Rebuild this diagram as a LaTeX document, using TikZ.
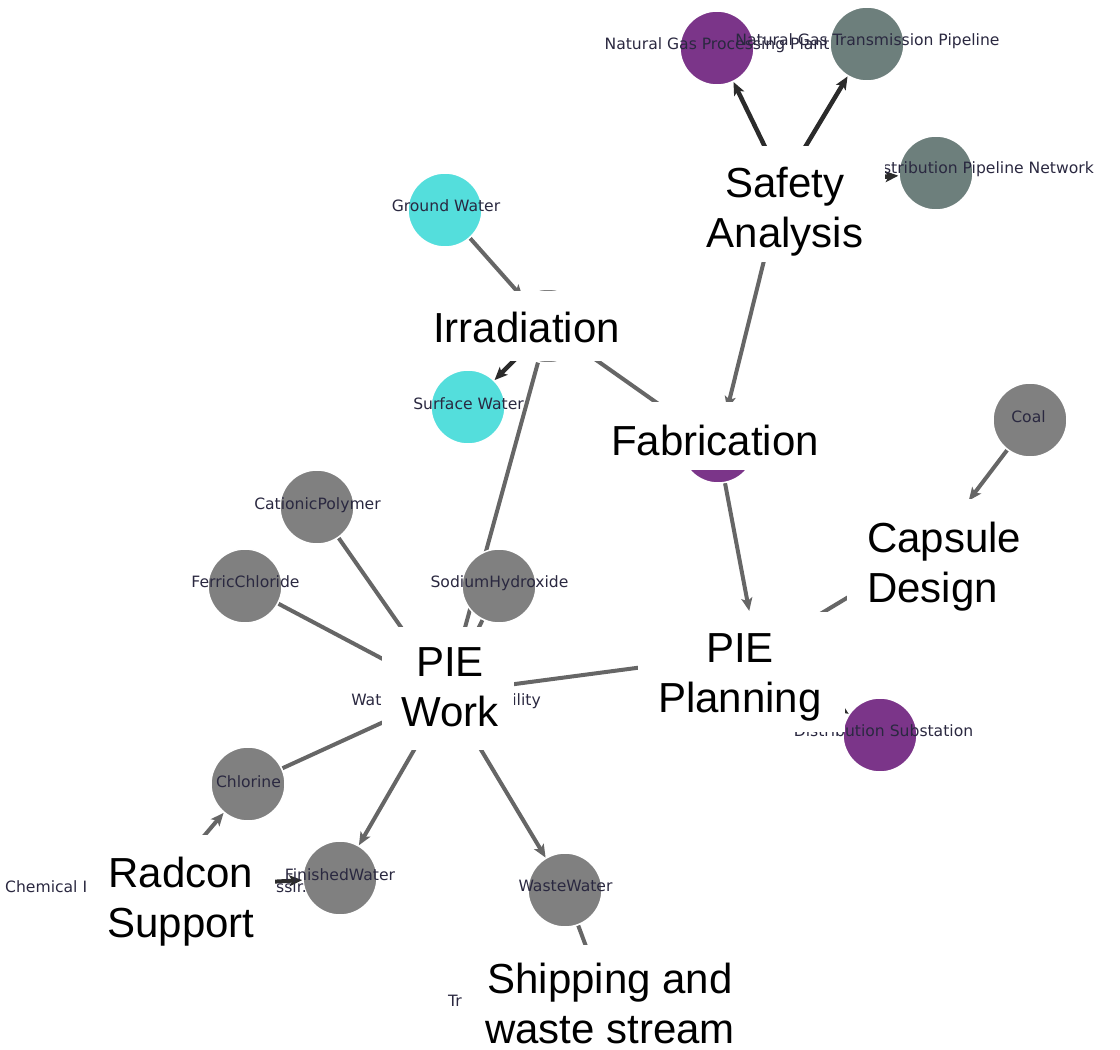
\documentclass[tikz,border=0pt]{standalone}
\usepackage{fontspec}
\setmainfont{Liberation Sans}
\newfontfamily\labelfont{DejaVu Sans}
\usetikzlibrary{arrows.meta}

\pgfdeclarelayer{edges}
\pgfdeclarelayer{labels}
\pgfdeclarelayer{boxes}
\pgfsetlayers{edges,main,labels,boxes}

\definecolor{nodepurple}{HTML}{7B3589}
\definecolor{nodeslate}{HTML}{6D7F7C}
\definecolor{nodecyan}{HTML}{54DEDC}
\definecolor{nodegray}{HTML}{808080}
\definecolor{edgegray}{HTML}{666666}
\definecolor{edgedark}{HTML}{2B2B2B}
\definecolor{labeltext}{HTML}{2A2840}

\begin{document}
\begin{tikzpicture}[x=1pt,y=-1pt,
  dot/.style={circle, minimum size=74pt, inner sep=0pt, draw=white, line width=1.5pt},
  lbl/.style={font=\labelfont\fontsize{15.6}{18}\selectfont, text=labeltext, inner sep=0pt, anchor=base},
  link/.style={draw=edgegray, line width=4pt},
  arrowlink/.style={link, -{Stealth[length=13pt,width=11pt,inset=3pt]}},
  darklink/.style={arrowlink, draw=edgedark, line width=4.5pt},
  cover/.style={fill=white, inner sep=0pt},
  big/.style={font=\fontsize{42}{50}\selectfont, align=center, inner sep=0pt}
]
\useasboundingbox (0,0) rectangle (1120,1050);

% ---- graph nodes ----
\node[dot, fill=nodepurple] (ngpp) at (717,48) {};
\node[dot, fill=nodeslate]  (ngtp) at (867,44) {};
\node[dot, fill=nodeslate]  (dpn)  at (936,173) {};
\node[dot, fill=nodegray]   (safety) at (783,184) {};
\node[dot, fill=nodecyan]   (gw)   at (445,210) {};
\node[dot, fill=nodegray]   (irr)  at (548,326) {};
\node[dot, fill=nodecyan]   (sw)   at (468,407) {};
\node[dot, fill=nodepurple] (fab)  at (718,446) {};
\node[dot, fill=nodegray]   (coal) at (1030,420) {};
\node[dot, fill=nodegray]   (caps) at (935,545) {};
\node[dot, fill=nodegray]   (plan) at (757,652) {};
\node[dot, fill=nodepurple] (ds)   at (880,735) {};
\node[dot, fill=nodegray]   (cp)   at (317,507) {};
\node[dot, fill=nodegray]   (fc)   at (245,586) {};
\node[dot, fill=nodegray]   (sh)   at (499,586) {};
\node[dot, fill=nodegray]   (wtf)  at (447,693) {};
\node[dot, fill=nodegray]   (cl)   at (248,784) {};
\node[dot, fill=nodegray]   (fw)   at (340,878) {};
\node[dot, fill=nodegray]   (ww)   at (565,890) {};
\node[dot, fill=nodegray]   (chem) at (160,888) {};
\node[dot, fill=nodegray]   (trans) at (606,1000) {};

% ---- connectors ----
\begin{pgfonlayer}{edges}
\draw[darklink] (safety) -- (ngpp);
\draw[darklink] (safety) -- (ngtp);
\draw[darklink] (safety) -- (dpn);
\draw[arrowlink] (safety) -- (fab);
\draw[arrowlink] (gw) -- (irr);
\draw[darklink] (irr) -- (sw);
\draw[arrowlink] (irr) -- (fab);
\draw[arrowlink] (irr) -- (wtf);
\draw[arrowlink, shorten >=4pt] (fab) -- (plan);
\draw[arrowlink, shorten >=18pt] (coal) -- (caps);
\draw[arrowlink] (caps) -- (plan);
\draw[arrowlink] (plan) -- (wtf);
\draw[darklink] (plan) -- (ds);
\draw[arrowlink] (cp) -- (wtf);
\draw[arrowlink] (fc) -- (wtf);
\draw[arrowlink] (sh) -- (wtf);
\draw[arrowlink] (cl) -- (wtf);
\draw[arrowlink] (wtf) -- (fw);
\draw[arrowlink] (wtf) -- (ww);
\draw[arrowlink] (chem) -- (cl);
\draw[arrowlink, draw=edgedark] (chem) -- (fw);
\draw[arrowlink] (ww) -- (trans);
\end{pgfonlayer}

% ---- node labels ----
\begin{pgfonlayer}{labels}
\node[lbl] (ngpplbl) at (717,49) {Natural Gas Processing Plant};
\node[lbl] (ngtplbl) at (867.5,45) {Natural Gas Transmission Pipeline};
\node[lbl, anchor=base east] (dpnlbl) at (1094,173) {Distribution Pipeline Network};
\node[lbl] (gwlbl) at (446,211) {Ground Water};
\node[lbl] (swlbl) at (468.5,409) {Surface Water};
\node[lbl] (cplbl) at (317.5,509) {CationicPolymer};
\node[lbl] (fclbl) at (245.5,587) {FerricChloride};
\node[lbl] (shlbl) at (499.5,587) {SodiumHydroxide};
\node[lbl] (wtflbl) at (446,705) {Water Treatment Facility};
\node[lbl] (cllbl) at (248.5,787) {Chlorine};
\node[lbl] (fwlbl) at (340,880) {FinishedWater};
\node[lbl] (wwlbl) at (565.5,891) {WasteWater};
\node[lbl] (coallbl) at (1028.5,422) {Coal};
\node[lbl] (dslbl) at (883.5,736) {Distribution Substation};
\node[lbl, anchor=base west] (chemlbl) at (5,892) {Chemical I};
\node[lbl, anchor=base west] (chemtail) at (276,892) {ssir.};
\node[lbl, anchor=base west] (translbl) at (448,1006) {Tr};
\end{pgfonlayer}

% ---- white caption panels ----
\begin{pgfonlayer}{boxes}
\node[cover, minimum width=199pt, minimum height=116pt] (safetybox) at (785.5,204) {};
\node[cover, minimum width=216pt, minimum height=70pt]  (irrbox)    at (528,326) {};
\node[cover, minimum width=230pt, minimum height=68pt]  (fabbox)    at (715,436) {};
\node[cover, minimum width=185pt, minimum height=116pt] (capsbox)   at (939.5,557) {};
\node[cover, minimum width=207pt, minimum height=120pt] (planbox)   at (741.5,672) {};
\node[cover, minimum width=132pt, minimum height=123pt] (workbox)   at (448,688.5) {};
\node[cover, minimum width=187pt, minimum height=120pt] (radconbox) at (181.5,895) {};
\node[cover, minimum width=292pt, minimum height=115pt] (shipbox)   at (614,1002.5) {};

\node[big] (safetytxt) at (785,212) {Safety\\Analysis};
\node[big] (irrtxt)    at (526.5,327) {Irradiation};
\node[big] (fabtxt)    at (715,440) {Fabrication};
\node[big, align=left, anchor=west] (capstxt) at (867,567) {Capsule\\Design};
\node[big] (plantxt)   at (740,677) {PIE\\Planning};
\node[big] (worktxt)   at (450,687) {PIE\\Work};
\node[big] (radcontxt) at (181,902) {Radcon\\Support};
\node[big] (shiptxt)   at (610,1003) {Shipping and\\waste stream};
\end{pgfonlayer}
\end{tikzpicture}
\end{document}
